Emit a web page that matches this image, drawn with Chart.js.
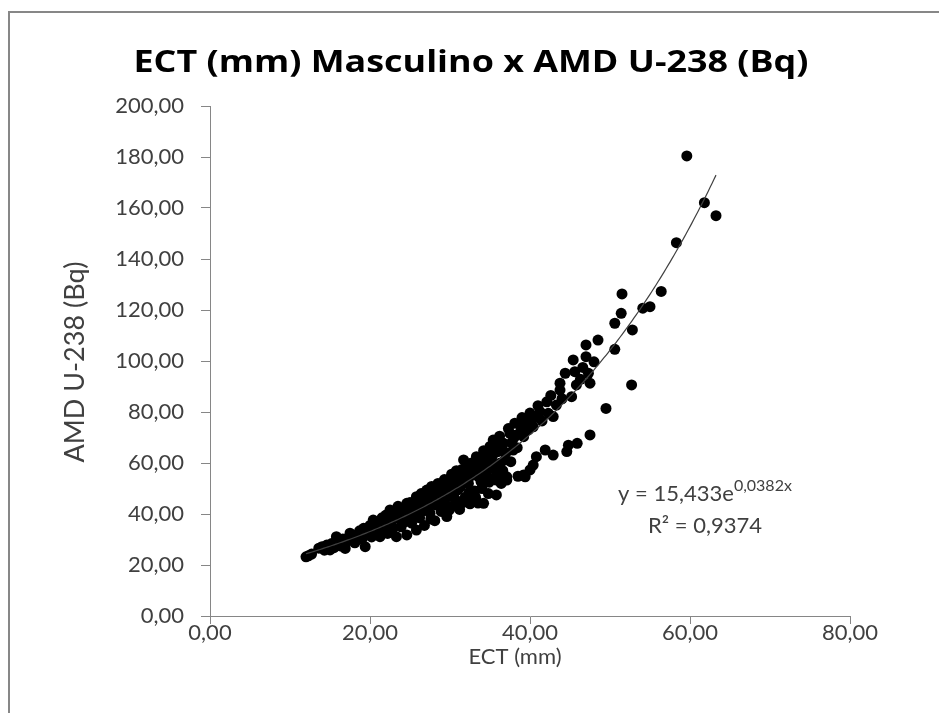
<!DOCTYPE html>
<html>
<head>
<meta charset="utf-8">
<title>ECT x AMD U-238</title>
<script src="https://cdn.jsdelivr.net/npm/chart.js@4.4.1/dist/chart.umd.min.js"></script>
<style>
    html, body { margin: 0; padding: 0; background: #fff; }
    #wrap { position: relative; width: 939px; height: 713px; }
</style>
</head>
<body>
<div id="wrap"><canvas id="chart" width="939" height="713"></canvas></div>
<script>
// Titles and tick settings
const chartTitle = "ECT (mm) Masculino x AMD U-238 (Bq)";
const xTitle = "ECT (mm)";
const yTitle = "AMD U-238 (Bq)";
const xTicks = [0, 20, 40, 60, 80];
const yTicks = [0, 20, 40, 60, 80, 100, 120, 140, 160, 180, 200];

// Trendline (exponential, as printed on the chart)
const trendA = 15.433;
const trendB = 0.0382;
const trendEq = "y = 15,433e";
const trendExp = "0,0382x";
const trendR2 = "R\u00b2 = 0,9374";
const trendFrom = 12.0;
const trendTo = 63.25;

// Scatter points [ECT, AMD], left to right
const ptsSmall = [
    [12.0, 23.2], [12.3, 23.6], [12.7, 24.3], [13.6, 26.6], [14.0, 27.2], [14.3, 25.8],
    [14.6, 27.8], [15.0, 25.9], [15.2, 28.4], [15.5, 26.8], [15.8, 31.1], [16.0, 29.0],
    [16.3, 27.5], [16.6, 30.2], [16.9, 26.5], [17.2, 29.5], [17.5, 32.5], [17.8, 30.8],
    [18.1, 28.7], [18.3, 30.0], [18.4, 31.9]
];
const ptsLower = [
    [18.7, 33.4], [18.9, 31.5], [19.0, 30.2], [19.2, 34.4], [19.4, 27.2], [19.5, 31.8],
    [19.7, 32.6], [19.9, 33.0], [20.0, 35.5], [20.2, 31.0], [20.4, 37.6], [20.5, 33.0],
    [20.7, 33.9], [20.9, 34.0], [21.0, 36.2], [21.25, 31.1], [21.3, 35.0], [21.5, 38.5],
    [21.7, 34.8], [21.8, 36.0], [21.9, 37.5], [22.0, 39.6], [22.2, 32.4], [22.4, 35.8],
    [22.5, 41.6], [22.7, 36.9], [22.9, 34.5], [23.0, 40.1], [23.1, 38.5], [23.3, 31.1],
    [23.5, 43.0], [23.6, 40.5], [23.7, 38.2], [23.8, 41.0], [23.9, 35.0], [24.2, 41.7],
    [24.3, 39.5], [24.4, 37.0], [24.6, 44.2], [24.6, 31.8], [24.8, 41.8], [24.9, 39.0],
    [25.0, 44.5], [25.2, 36.4], [25.3, 41.0], [25.4, 39.5], [25.5, 42.8], [25.7, 44.5],
    [25.8, 46.8], [25.8, 33.7]
];
const ptsMiddle = [
    [26.0, 44.0], [26.1, 41.5], [26.2, 38.5], [26.4, 48.0], [26.5, 45.5], [26.6, 41.2],
    [26.7, 43.8], [26.8, 35.5], [27.0, 42.5], [27.1, 49.4], [27.2, 47.0], [27.3, 45.0],
    [27.4, 43.0], [27.5, 40.3], [27.6, 38.0], [27.7, 50.8], [27.8, 45.0], [27.9, 47.2],
    [28.0, 49.0], [28.1, 37.4], [28.2, 46.0], [28.3, 43.5], [28.4, 47.5], [28.5, 52.0],
    [28.6, 45.0], [28.7, 48.6], [28.8, 50.5], [28.9, 41.0], [29.0, 48.0], [29.1, 45.8],
    [29.2, 51.5], [29.3, 53.5], [29.4, 44.0], [29.5, 47.0], [29.6, 39.0], [29.7, 49.5],
    [29.8, 50.2], [29.9, 41.5], [30.0, 47.0], [30.1, 52.5], [30.2, 55.6], [30.3, 50.0],
    [30.4, 43.2], [30.5, 48.0], [30.6, 52.7], [30.7, 45.5]
];
const ptsUpper = [
    [30.8, 57.0], [30.9, 51.0], [31.0, 49.5], [31.1, 53.0], [31.2, 41.8], [31.3, 50.5],
    [31.4, 54.8], [31.5, 57.5], [31.6, 44.5], [31.7, 61.2], [31.8, 56.0], [31.9, 46.5],
    [32.0, 54.5], [32.1, 58.5], [32.1, 46.8], [32.3, 52.0], [32.4, 48.5], [32.5, 44.0],
    [32.6, 55.0], [32.7, 60.0], [32.8, 57.5], [32.9, 55.6], [33.0, 59.0], [33.1, 49.0],
    [33.2, 46.5], [33.3, 62.5], [33.4, 56.5], [33.5, 44.3], [33.6, 54.5], [33.7, 58.0],
    [33.8, 60.5], [33.9, 52.5], [34.0, 50.0], [34.2, 64.8], [34.2, 44.2], [34.2, 52.7],
    [34.3, 62.5], [34.4, 60.5], [34.5, 58.0], [34.6, 55.0], [34.7, 63.0], [34.8, 48.0],
    [34.9, 52.5], [35.0, 66.5], [35.1, 64.5], [35.2, 62.0], [35.3, 59.5], [35.4, 69.0],
    [35.5, 66.5], [35.6, 57.5], [35.6, 64.0], [35.8, 47.5], [35.8, 53.3], [35.9, 55.0]
];
const ptsBranch = [
    [36.0, 64.5], [36.1, 67.0], [36.2, 70.5], [36.3, 60.0], [36.4, 52.0], [36.5, 65.0],
    [36.6, 57.0], [36.7, 67.7], [36.9, 61.2], [37.0, 64.0], [37.1, 54.6], [37.1, 53.3],
    [37.3, 73.5], [37.5, 71.6], [37.6, 60.5], [37.7, 68.0], [37.9, 65.1], [38.0, 70.0],
    [38.1, 75.6], [38.3, 71.0], [38.4, 66.0], [38.5, 54.8], [38.75, 74.9], [38.8, 72.0],
    [39.0, 77.8], [39.2, 70.3], [39.2, 55.3], [39.4, 54.6], [39.4, 74.5], [39.6, 77.5],
    [39.8, 73.0], [40.0, 57.3], [40.0, 79.6], [40.2, 76.5], [40.4, 74.2], [40.4, 59.2],
    [40.7, 78.0], [40.8, 62.5], [41.0, 82.5], [41.25, 80.1], [41.5, 76.5], [41.9, 65.1],
    [42.1, 84.0], [42.3, 79.5], [42.6, 86.5], [42.9, 78.2], [42.9, 63.1], [43.3, 82.7],
    [43.75, 88.6], [43.75, 91.3], [44.0, 85.2], [44.4, 95.2], [44.6, 64.5], [44.8, 67.0],
    [45.2, 86.0], [45.4, 100.4], [45.6, 95.8], [45.8, 90.6], [45.9, 67.7], [46.3, 92.8],
    [46.6, 97.5], [47.0, 101.7], [47.0, 106.3], [47.3, 95.2], [47.5, 91.3], [47.5, 71.0],
    [48.0, 99.7], [48.5, 108.2]
];
const ptsTop = [
    [49.5, 81.4], [50.6, 104.6], [50.6, 114.8], [51.4, 118.7], [51.5, 126.3], [52.7, 90.6],
    [52.8, 112.2], [54.1, 120.7], [55.0, 121.3], [56.4, 127.3], [58.3, 146.4], [59.6, 180.4],
    [61.8, 162.1], [63.25, 157.0]
];

const allPoints = [...ptsSmall, ...ptsLower, ...ptsMiddle, ...ptsUpper, ...ptsBranch, ...ptsTop]
    .map(p => ({ x: p[0], y: p[1] }));

// Trendline curve from the printed coefficients
const trendPoints = [];
for (let x = trendFrom; x <= trendTo + 0.001; x += 0.25) {
    trendPoints.push({ x: x, y: trendA * Math.exp(trendB * x) });
}

const fmt = v => v.toFixed(2).replace(".", ",");
const fontFam = "Lato, 'Open Sans', sans-serif";
const textGrey = "#404040";
const axisGrey = "#868686";

// Border, titles and equation label
const decorations = {
    id: "decorations",
    beforeDraw(chart) {
        const ctx = chart.ctx;
        ctx.save();
        ctx.fillStyle = "#fff";
        ctx.fillRect(0, 0, chart.width, chart.height);
        ctx.strokeStyle = "#878787";
        ctx.lineWidth = 2;
        ctx.strokeRect(9, 12, 1000, 1000);
        ctx.restore();
    },
    afterDraw(chart) {
        const ctx = chart.ctx;

        // main title, stretched a little to the Calibri width
        ctx.save();
        ctx.fillStyle = "#000";
        ctx.textBaseline = "alphabetic";
        ctx.textAlign = "center";
        ctx.font = "bold 31px 'Open Sans', sans-serif";
        const tw = ctx.measureText(chartTitle).width;
        const sx = 675 / tw;
        ctx.translate(471, 72);
        ctx.scale(sx, 1);
        ctx.fillText(chartTitle, 0, 0);
        ctx.restore();

        // axis titles
        ctx.save();
        ctx.fillStyle = textGrey;
        ctx.textAlign = "center";
        ctx.textBaseline = "middle";
        ctx.font = "22px " + fontFam;
        ctx.fillText(xTitle, 515, 657);
        ctx.translate(75, 362);
        ctx.rotate(-Math.PI / 2);
        ctx.font = "27px " + fontFam;
        ctx.fillText(yTitle, 0, 0);
        ctx.restore();

        // trendline equation
        ctx.save();
        ctx.fillStyle = textGrey;
        ctx.textBaseline = "alphabetic";
        ctx.textAlign = "left";
        ctx.font = "22px " + fontFam;
        const w1 = ctx.measureText(trendEq).width;
        ctx.font = "16px " + fontFam;
        const w2 = ctx.measureText(trendExp).width;
        const cx = 705;
        const left = cx - (w1 + w2) / 2;
        ctx.font = "22px " + fontFam;
        ctx.fillText(trendEq, left, 501);
        ctx.font = "16px " + fontFam;
        ctx.fillText(trendExp, left + w1, 491);
        ctx.font = "22px " + fontFam;
        ctx.textAlign = "center";
        ctx.fillText(trendR2, cx, 533);
        ctx.restore();
    }
};

new Chart(document.getElementById("chart"), {
    type: "scatter",
    data: {
        datasets: [
            {
                label: "Tendência",
                type: "line",
                data: trendPoints,
                borderColor: "#404040",
                borderWidth: 1.2,
                pointRadius: 0,
                fill: false,
                tension: 0,
                order: 0
            },
            {
                label: "AMD U-238",
                data: allPoints,
                backgroundColor: "#000",
                borderColor: "#000",
                borderWidth: 0,
                pointRadius: 5.5,
                order: 1
            }
        ]
    },
    options: {
        responsive: false,
        animation: false,
        events: [],
        layout: { padding: { top: 106, right: 89, left: 0, bottom: 0 } },
        plugins: {
            legend: { display: false },
            tooltip: { enabled: false },
            title: { display: false }
        },
        scales: {
            x: {
                type: "linear",
                min: 0,
                max: 80,
                afterBuildTicks: s => { s.ticks = xTicks.map(v => ({ value: v })); },
                afterFit: s => { s.height = 97; },
                ticks: {
                    callback: fmt,
                    color: textGrey,
                    font: { family: fontFam, size: 22 },
                    padding: -4,
                    maxRotation: 0
                },
                grid: { drawOnChartArea: false, drawTicks: true, tickLength: 8, color: axisGrey },
                border: { display: true, color: axisGrey, width: 1 }
            },
            y: {
                type: "linear",
                min: 0,
                max: 200,
                afterBuildTicks: s => { s.ticks = yTicks.map(v => ({ value: v })); },
                afterFit: s => { s.width = 210; },
                ticks: {
                    callback: fmt,
                    color: textGrey,
                    font: { family: fontFam, size: 22 },
                    padding: 17
                },
                grid: { drawOnChartArea: false, drawTicks: true, tickLength: 9, color: axisGrey },
                border: { display: true, color: axisGrey, width: 1 }
            }
        }
    },
    plugins: [decorations]
});
</script>
</body>
</html>
